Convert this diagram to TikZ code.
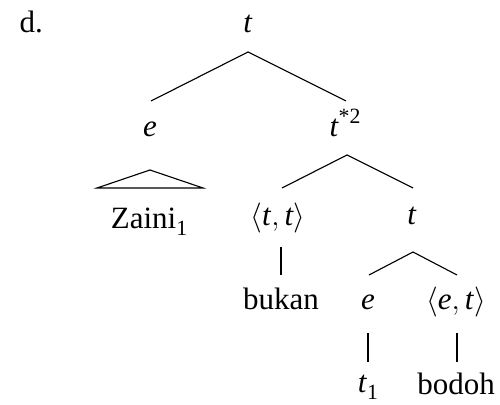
\documentclass[tikz,border=0pt]{standalone}
\usepackage{fontspec}
\setmainfont{Liberation Serif}
\newcommand{\supr}[1]{\raisebox{0.42em}{\fontsize{8.7}{9}\selectfont #1}}
\newcommand{\subr}[1]{\raisebox{-0.22em}{\fontsize{8.7}{9}\selectfont #1}}
\begin{document}
\begin{tikzpicture}[x=0.4pt,y=-0.4pt,
  lbl/.style={anchor=base,inner sep=0pt,font=\fontsize{12.4}{14}\selectfont},
  edge/.style={line width=0.45pt}]
\useasboundingbox (0,0) rectangle (500,405);
% labels
\node[lbl,anchor=base west] (d) at (19,33) {d.};
\node[lbl] (root) at (248,33) {\textit{t}};
\node[lbl] (e1) at (150,137) {\textit{e}};
\node[lbl] (t2) at (345,137) {\textit{t}\supr{*2}};
\node[lbl] (zaini) at (149,229) {Zaini\subr{1}};
\node[lbl] (tt) at (278,226) {$\langle$\textit{t}$,$\,\textit{t}$\rangle$};
\node[lbl] (t3) at (412,225) {\textit{t}};
\node[lbl] (bukan) at (281,310) {bukan};
\node[lbl] (e2) at (368,310) {\textit{e}};
\node[lbl] (et) at (456,310) {$\langle$\textit{e}$,$\,\textit{t}$\rangle$};
\node[lbl] (t1) at (368,393) {\textit{t}\subr{1}};
\node[lbl] (bodoh) at (456,395) {bodoh};
% connector points
\coordinate (rA) at (248,52);
\coordinate (e1T) at (151,101);
\coordinate (t2T) at (346,101);
\coordinate (triA) at (150,170);
\coordinate (triL) at (97,188);
\coordinate (triR) at (203,188);
\coordinate (t2A) at (347,155);
\coordinate (ttT) at (282,188);
\coordinate (t3T) at (413,188);
\coordinate (ttB) at (281,247);
\coordinate (bukT) at (281,275);
\coordinate (t3A) at (413,252);
\coordinate (e2T) at (369,275);
\coordinate (etT) at (457,275);
\coordinate (e2B) at (368,333);
\coordinate (t1T) at (368,362);
\coordinate (etB) at (457,333);
\coordinate (bodT) at (457,362);
% edges
\draw[edge] (e1T) -- (rA) -- (t2T);
\draw[edge] (triL) -- (triA) -- (triR) -- cycle;
\draw[edge] (ttT) -- (t2A) -- (t3T);
\draw[edge] (ttB) -- (bukT);
\draw[edge] (e2T) -- (t3A) -- (etT);
\draw[edge] (e2B) -- (t1T);
\draw[edge] (etB) -- (bodT);
\end{tikzpicture}
\end{document}
